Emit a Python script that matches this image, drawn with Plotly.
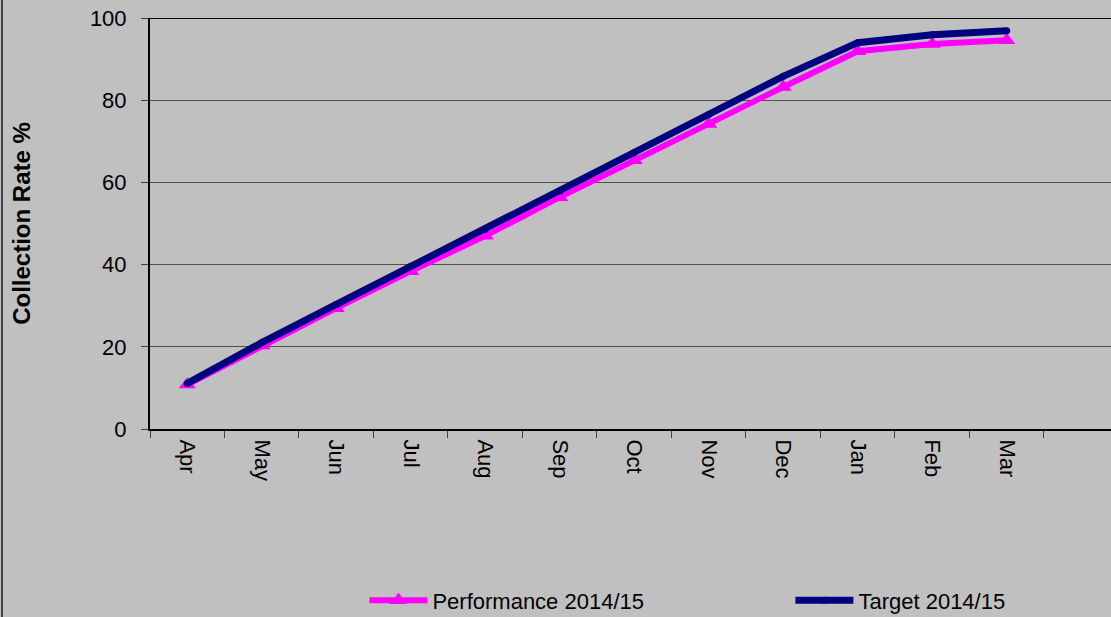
import plotly.graph_objects as go

months = ["Apr", "May", "Jun", "Jul", "Aug", "Sep", "Oct", "Nov", "Dec", "Jan", "Feb", "Mar"]
performance = [10.8, 20.3, 29.4, 38.4, 47.0, 56.4, 65.4, 74.2, 83.2, 91.9, 93.7, 94.6]
target = [11.1, 21.0, 30.3, 39.6, 48.6, 57.9, 67.2, 76.5, 85.8, 94.0, 95.9, 96.9]
y_ticks = [0, 20, 40, 60, 80, 100]

FONT = "Liberation Sans, Arial, sans-serif"
BG = "#c0c0c0"

fig = go.Figure()
fig.add_trace(go.Scatter(
    x=months, y=performance, name="Performance 2014/15", mode="lines+markers",
    line=dict(color="#ff00ff", width=6),
    marker=dict(symbol="triangle-up", size=15, color="#ff00ff"),
))
fig.add_trace(go.Scatter(
    x=months, y=target, name="Target 2014/15", mode="lines+markers",
    line=dict(color="#000080", width=7),
    marker=dict(symbol="circle", size=7, color="#000080"),
))

fig.update_layout(
    width=1111, height=617,
    paper_bgcolor=BG, plot_bgcolor=BG,
    margin=dict(l=150, r=0, t=18, b=188, autoexpand=False),
    font=dict(family=FONT, size=22, color="#000000"),
    showlegend=True,
    legend=dict(
        orientation="h", xref="container", yref="container",
        x=0.328, xanchor="left", y=0.027, yanchor="middle",
        bgcolor="rgba(0,0,0,0)", font=dict(size=22, family=FONT),
        entrywidth=353, entrywidthmode="pixels", itemwidth=58,
        traceorder="normal",
    ),
    xaxis=dict(
        type="category", range=[-0.5, 12.4], automargin=False,
        showline=True, linecolor="#000000", linewidth=2,
        ticks="outside", tickson="boundaries", ticklen=7, tickcolor="#404040", tickwidth=1,
        tickangle=90, showgrid=False, zeroline=False, ticklabelstandoff=4,
        tickfont=dict(size=22, family=FONT),
    ),
    yaxis=dict(
        range=[0, 100], tickvals=y_ticks, automargin=False,
        showline=True, linecolor="#000000", linewidth=2,
        ticks="outside", ticklen=7, tickcolor="#404040", tickwidth=1,
        showgrid=True, gridcolor="#505050", gridwidth=1, zeroline=False,
        ticklabelstandoff=10,
        tickfont=dict(size=22, family=FONT),
        title=dict(text="<b>Collection Rate %</b>", font=dict(size=24, family=FONT), standoff=52),
    ),
    shapes=[
        dict(type="line", xref="paper", yref="y", x0=0, x1=1, y0=100, y1=100,
             line=dict(color="#000000", width=2)),
        dict(type="line", xref="paper", yref="paper", x0=(2 - 150) / 961, x1=(2 - 150) / 961,
             y0=-188 / 411, y1=1 + 18 / 411, line=dict(color="#404040", width=2)),
    ],
)

fig.write_html("out.html", config={"displayModeBar": False},
               post_script="document.body.style.margin='0px';")
